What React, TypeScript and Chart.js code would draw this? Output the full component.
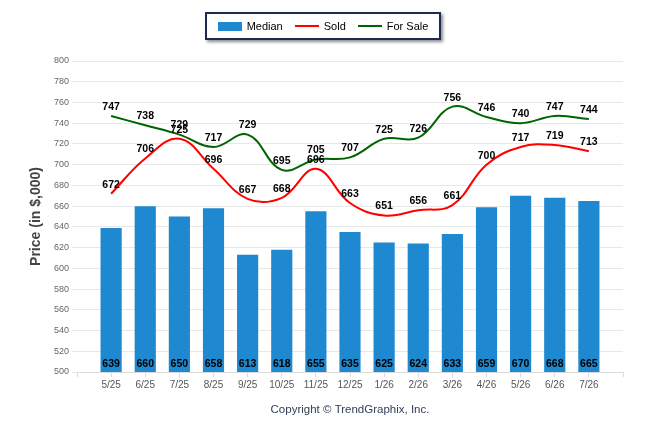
import { Chart, registerables } from 'chart.js'
import { useEffect, useRef } from 'react'

Chart.register(...registerables)

const months = ['5/25', '6/25', '7/25', '8/25', '9/25', '10/25', '11/25', '12/25', '1/26', '2/26', '3/26', '4/26', '5/26', '6/26', '7/26']
const median = [639, 660, 650, 658, 613, 618, 655, 635, 625, 624, 633, 659, 670, 668, 665]
const sold = [672, 706, 725, 696, 667, 668, 696, 663, 651, 656, 661, 700, 717, 719, 713]
const forSale = [747, 738, 729, 717, 729, 695, 705, 707, 725, 726, 756, 746, 740, 747, 744]

const legendItems = [
  { label: 'Median', color: '#1e88d0', bar: true },
  { label: 'Sold', color: '#ff0000', bar: false },
  { label: 'For Sale', color: '#006400', bar: false },
]

const FONT = '"Liberation Sans", Arial, sans-serif'

const toPoints = (values: number[]) => values.map((y, x) => ({ x, y }))

// value labels + copyright line
const labelsPlugin = {
  id: 'valueLabels',
  afterDatasetsDraw(chart: Chart) {
    const { ctx, chartArea } = chart
    const yScale = chart.scales.y
    ctx.save()
    ctx.font = `bold 10.5px ${FONT}`
    ctx.fillStyle = '#000'
    ctx.textAlign = 'center'
    ctx.textBaseline = 'middle'
    chart.data.datasets.forEach((ds: any, i) => {
      const meta = chart.getDatasetMeta(i)
      meta.data.forEach((el: any, j) => {
        const v = (ds.data[j] as any).y
        if (ds.type === 'bar') {
          ctx.fillText(String(v), el.x, yScale.getPixelForValue(500) - 8)
        } else {
          ctx.fillText(String(v), el.x, el.y - 9)
        }
      })
    })
    ctx.font = `11.5px ${FONT}`
    ctx.fillStyle = '#33405a'
    ctx.fillText('Copyright \u00a9 TrendGraphix, Inc.', (chartArea.left + chartArea.right) / 2, 410)
    ctx.restore()
  },
}

function PriceChart() {
  const ref = useRef<HTMLCanvasElement>(null)

  useEffect(() => {
    if (!ref.current) return
    const chart = new Chart(ref.current, {
      type: 'bar',
      data: {
        datasets: [
          {
            type: 'line',
            label: 'For Sale',
            data: toPoints(forSale),
            borderColor: '#006400',
            borderWidth: 2,
            tension: 0.4,
            pointRadius: 0,
            fill: false,
          },
          {
            type: 'line',
            label: 'Sold',
            data: toPoints(sold),
            borderColor: '#ff0000',
            borderWidth: 2,
            tension: 0.4,
            pointRadius: 0,
            fill: false,
          },
          {
            type: 'bar',
            label: 'Median',
            data: toPoints(median),
            backgroundColor: '#1e88d0',
            barPercentage: 0.62,
            categoryPercentage: 1,
          },
        ],
      },
      options: {
        animation: false,
        responsive: true,
        maintainAspectRatio: false,
        layout: { padding: { top: 61, right: 23, left: 0, bottom: 0 } },
        plugins: {
          legend: { display: false },
          tooltip: { enabled: false },
        },
        scales: {
          x: {
            type: 'linear',
            min: -1,
            max: 15,
            offset: false,
            afterFit: (s: any) => { s.height = 62 },
            afterBuildTicks: (s: any) => {
              s.ticks = Array.from({ length: 17 }, (_, i) => ({ value: i - 1 }))
            },
            ticks: {
              autoSkip: false,
              maxRotation: 0,
              padding: 2,
              color: '#555',
              font: { family: FONT, size: 10 },
              callback: (v: any) => months[v] ?? '',
            },
            grid: { offset: false, drawOnChartArea: false, drawTicks: true, tickLength: 5, color: '#dcdcdc' },
            border: { color: '#dcdcdc' },
          },
          y: {
            min: 500,
            max: 800,
            afterFit: (s: any) => { s.width = 77 },
            ticks: {
              stepSize: 20,
              padding: 3,
              color: '#666',
              font: { family: FONT, size: 9 },
            },
            grid: { color: '#e8e8e8', tickLength: 5 },
            border: { display: false },
            title: {
              display: true,
              text: 'Price (in $,000)',
              color: '#444',
              font: { family: FONT, size: 14, weight: 'bold' },
              padding: { top: 28 },
            },
          },
        },
      },
      plugins: [labelsPlugin],
    })
    return () => chart.destroy()
  }, [])

  return (
    <div style={{ position: 'fixed', left: 0, top: 0, width: 646, height: 434, background: '#fff' }}>
      <canvas ref={ref}></canvas>
      <div
        style={{
          position: 'absolute',
          left: 205,
          top: 12,
          width: 232,
          height: 24,
          border: '2px solid #1c2c50',
          boxShadow: '2px 2px 3px rgba(0,0,0,0.45)',
          display: 'flex',
          alignItems: 'center',
          justifyContent: 'center',
          gap: 12,
          fontFamily: FONT,
          fontSize: 11,
          color: '#000',
          background: '#fff',
        }}
      >
        {legendItems.map((it) => (
          <div key={it.label} style={{ display: 'flex', alignItems: 'center', gap: 5 }}>
            <span
              style={{
                display: 'inline-block',
                width: 24,
                height: it.bar ? 9 : 2,
                background: it.color,
              }}
            />
            <span>{it.label}</span>
          </div>
        ))}
      </div>
    </div>
  )
}

export default function App() {
  return <PriceChart />
}
